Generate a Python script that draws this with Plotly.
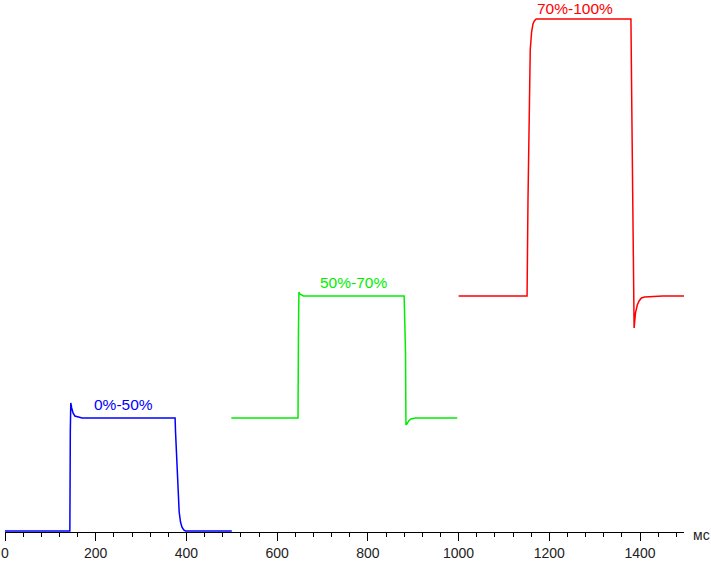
import plotly.graph_objects as go

# Blue: 0%-50%
blue_x = [0, 100, 143, 144, 145, 147, 150, 154, 160, 170, 200, 250, 300, 350, 375, 376, 378, 380, 382, 384, 387, 390, 394, 398, 420, 500]
blue_y = [1, 1, 1, 100, 129, 124, 119, 116, 115, 114, 114, 114, 114, 114, 114, 100, 80, 55, 35, 20, 10, 5, 2, 1, 1, 1]

# Green: 50%-70%
green_x = [499, 600, 646, 647, 648, 650, 653, 658, 665, 700, 750, 800, 850, 880, 883, 884, 886, 890, 895, 905, 950, 997]
green_y = [114, 114, 114, 200, 240, 238, 237, 236, 236, 236, 236, 236, 236, 236, 180, 107, 108, 111, 113, 114, 114, 114]

# Red: 70%-100%
red_x = [1000, 1100, 1151, 1153, 1156, 1158, 1161, 1164, 1167, 1171, 1200, 1250, 1300, 1350, 1380, 1382, 1385, 1387, 1390, 1394, 1398, 1403, 1410, 1450, 1497]
red_y = [236, 236, 236, 330, 440, 482, 500, 508, 511, 513, 513, 513, 513, 513, 513, 420, 300, 204, 219, 227, 231, 234, 235, 236, 236]

labels = ["0%-50%", "50%-70%", "70%-100%"]
label_x = [262, 768, 1257]
label_y = [128, 250, 524]
colors = ["#0000ff", "#00ee00", "#ff0000"]

fig = go.Figure()
for xs, ys, c in [(blue_x, blue_y, colors[0]), (green_x, green_y, colors[1]), (red_x, red_y, colors[2])]:
    fig.add_trace(go.Scatter(x=xs, y=ys, mode="lines", line=dict(color=c, width=1.5),
                             showlegend=False, hoverinfo="skip", cliponaxis=False))

for t, x, y, c in zip(labels, label_x, label_y, colors):
    fig.add_annotation(x=x, y=y, text=t, showarrow=False, xref="x", yref="y",
                       font=dict(family="Liberation Sans, Arial", size=15.5, color=c))

fig.add_annotation(x=1.0, y=0, xref="paper", yref="y", xshift=17, text="мс", showarrow=False,
                   font=dict(family="Liberation Sans, Arial", size=14, color="#222222"),
                   xanchor="center", yanchor="middle", yshift=-3)

fig.update_layout(
    width=711, height=561,
    margin=dict(l=5, r=27, t=0, b=29, autoexpand=False),
    paper_bgcolor="white", plot_bgcolor="white",
    xaxis=dict(range=[0, 1497], showgrid=False, zeroline=False, automargin=False,
               showline=True, linecolor="black", linewidth=1,
               tickmode="array", tickvals=[0, 200, 400, 600, 800, 1000, 1200, 1400],
               ticks="outside", ticklen=8, tickcolor="black", tickwidth=1,
               tickfont=dict(family="Liberation Sans, Arial", size=14, color="#222222"),
               minor=dict(dtick=40, tick0=0, ticks="outside", ticklen=4, tickcolor="black", showgrid=False)),
    yaxis=dict(range=[0, 532], visible=False, showgrid=False, zeroline=False, automargin=False),
)

fig.write_html("out.html", config={"displayModeBar": False},
               post_script="document.body.style.margin='0';document.body.style.overflow='hidden';")
